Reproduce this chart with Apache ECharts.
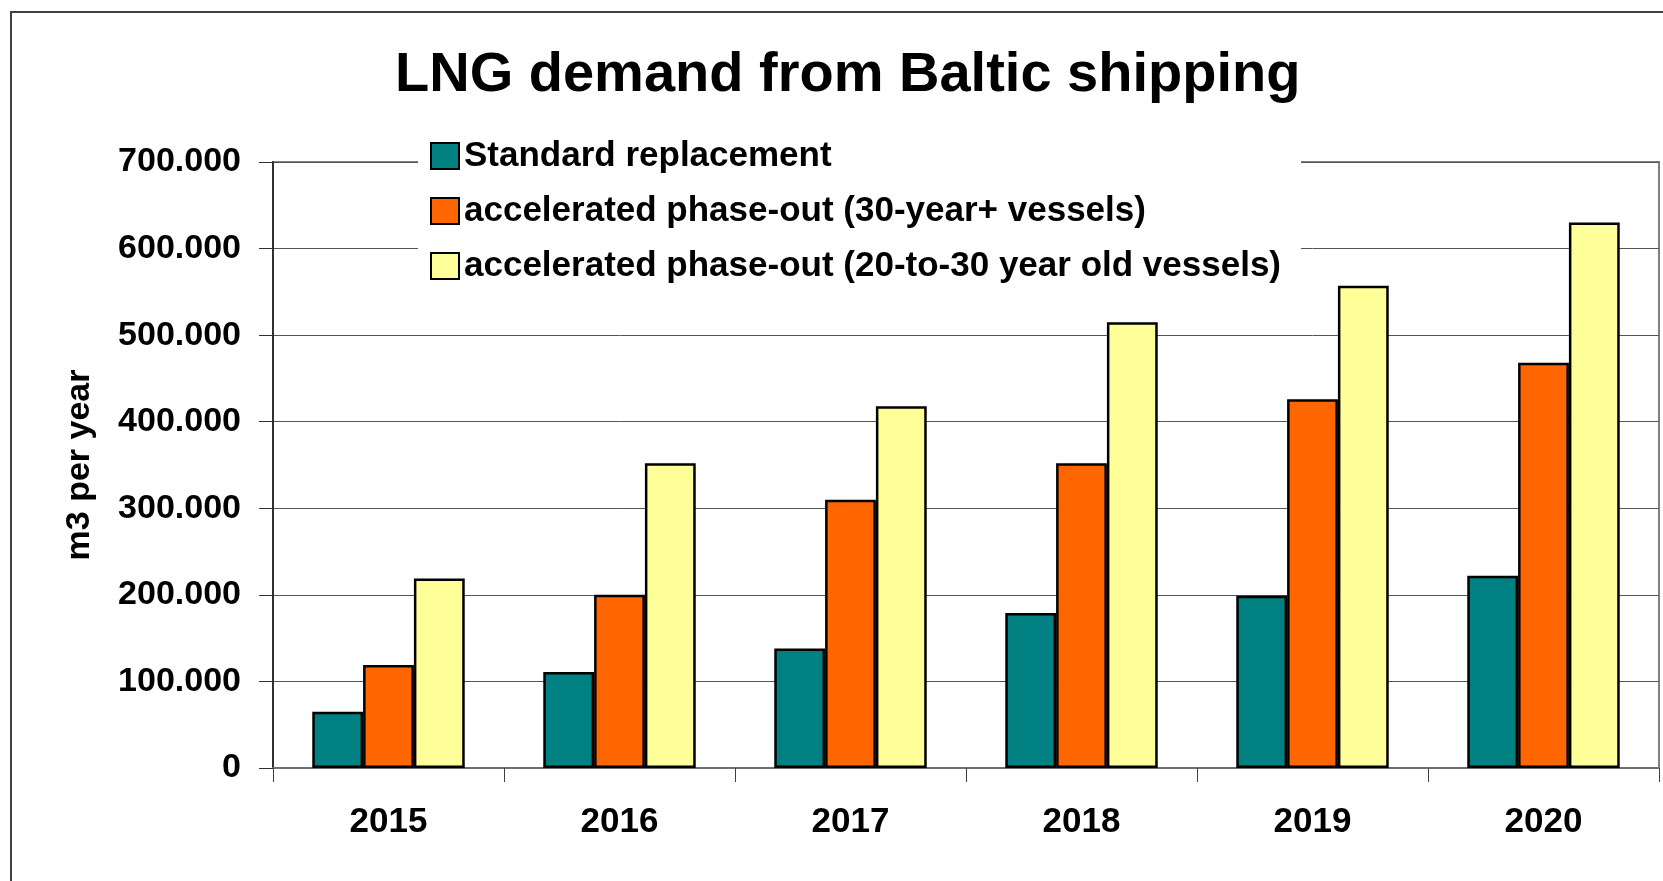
<!DOCTYPE html>
<html>
<head>
<meta charset="utf-8">
<title>LNG demand from Baltic shipping</title>
<script src="https://cdn.jsdelivr.net/npm/echarts@6/dist/echarts.min.js"></script>
<style>
  html, body { margin: 0; padding: 0; background: #fff; }
  #chart { width: 1663px; height: 881px; }
</style>
</head>
<body>
<div id="chart"></div>
<script>
// data (m3 per year)
const years = ['2015', '2016', '2017', '2018', '2019', '2020'];
const seriesNames = [
  'Standard replacement',
  'accelerated phase-out (30-year+ vessels)',
  'accelerated phase-out (20-to-30 year old vessels)'
];
const standardReplacement = [65000, 111000, 138000, 179000, 199000, 222000];
const phaseOut30Plus = [119000, 200000, 310000, 352000, 426000, 468000];
const phaseOut20to30 = [219000, 352000, 418000, 515000, 557000, 630000];
const colors = ['#008080', '#FF6600', '#FFFF99'];

const font = '"Liberation Sans", Arial, sans-serif';

const chart = echarts.init(document.getElementById('chart'));

const makeSeries = (name, data, color) => ({
  name: name,
  type: 'bar',
  data: data,
  barGap: 0,
  barCategoryGap: '34%',
  itemStyle: {
    color: color,
    borderColor: '#000',
    borderWidth: 2.5
  }
});

chart.setOption({
  backgroundColor: '#fff',
  animation: false,
  textStyle: { fontFamily: font },
  // outer frame
  graphic: [{
    type: 'rect',
    shape: { x: 11, y: 12, width: 1700, height: 1000 },
    style: { fill: 'none', stroke: '#404040', lineWidth: 2 },
    z: -1
  }],
  title: {
    text: 'LNG demand from Baltic shipping',
    left: 390,
    top: 43,
    textStyle: { fontSize: 56, fontWeight: 'bold', color: '#000', fontFamily: font }
  },
  legend: {
    orient: 'vertical',
    left: 418,
    top: 133,
    padding: [5, 20, 8, 12],
    backgroundColor: '#fff',
    itemWidth: 28,
    itemHeight: 26,
    itemGap: 19,
    icon: 'rect',
    z: 10,
    textStyle: {
      fontSize: 35,
      fontWeight: 'bold',
      color: '#000',
      fontFamily: font,
      lineHeight: 36
    },
    data: seriesNames
  },
  grid: {
    left: 273,
    right: 4,
    top: 162,
    bottom: 113,
    show: true,
    borderColor: '#808080',
    borderWidth: 2,
    backgroundColor: 'transparent'
  },
  xAxis: {
    type: 'category',
    data: years,
    axisLine: { lineStyle: { color: '#707070', width: 2 } },
    axisTick: { show: true, length: 14, lineStyle: { color: '#404040', width: 1 } },
    axisLabel: {
      margin: 37,
      fontSize: 35,
      fontWeight: 'bold',
      color: '#000',
      fontFamily: font
    }
  },
  yAxis: {
    type: 'value',
    min: 0,
    max: 700000,
    interval: 100000,
    name: 'm3 per year',
    nameLocation: 'middle',
    nameGap: 176,
    nameTextStyle: {
      fontSize: 34,
      fontWeight: 'bold',
      color: '#000',
      fontFamily: font
    },
    axisLine: { show: true, lineStyle: { color: '#303030', width: 2 } },
    axisTick: { show: true, length: 14, lineStyle: { color: '#303030', width: 1 } },
    axisLabel: {
      margin: 32,
      fontSize: 34,
      fontWeight: 'bold',
      color: '#000',
      fontFamily: font,
      formatter: v => (v === 0 ? '0' : (v / 1000) + '.000')
    },
    splitLine: { show: true, lineStyle: { color: '#555', width: 1 } }
  },
  series: [
    makeSeries(seriesNames[0], standardReplacement, colors[0]),
    makeSeries(seriesNames[1], phaseOut30Plus, colors[1]),
    makeSeries(seriesNames[2], phaseOut20to30, colors[2])
  ]
});

window.addEventListener('resize', () => chart.resize());
</script>
</body>
</html>
